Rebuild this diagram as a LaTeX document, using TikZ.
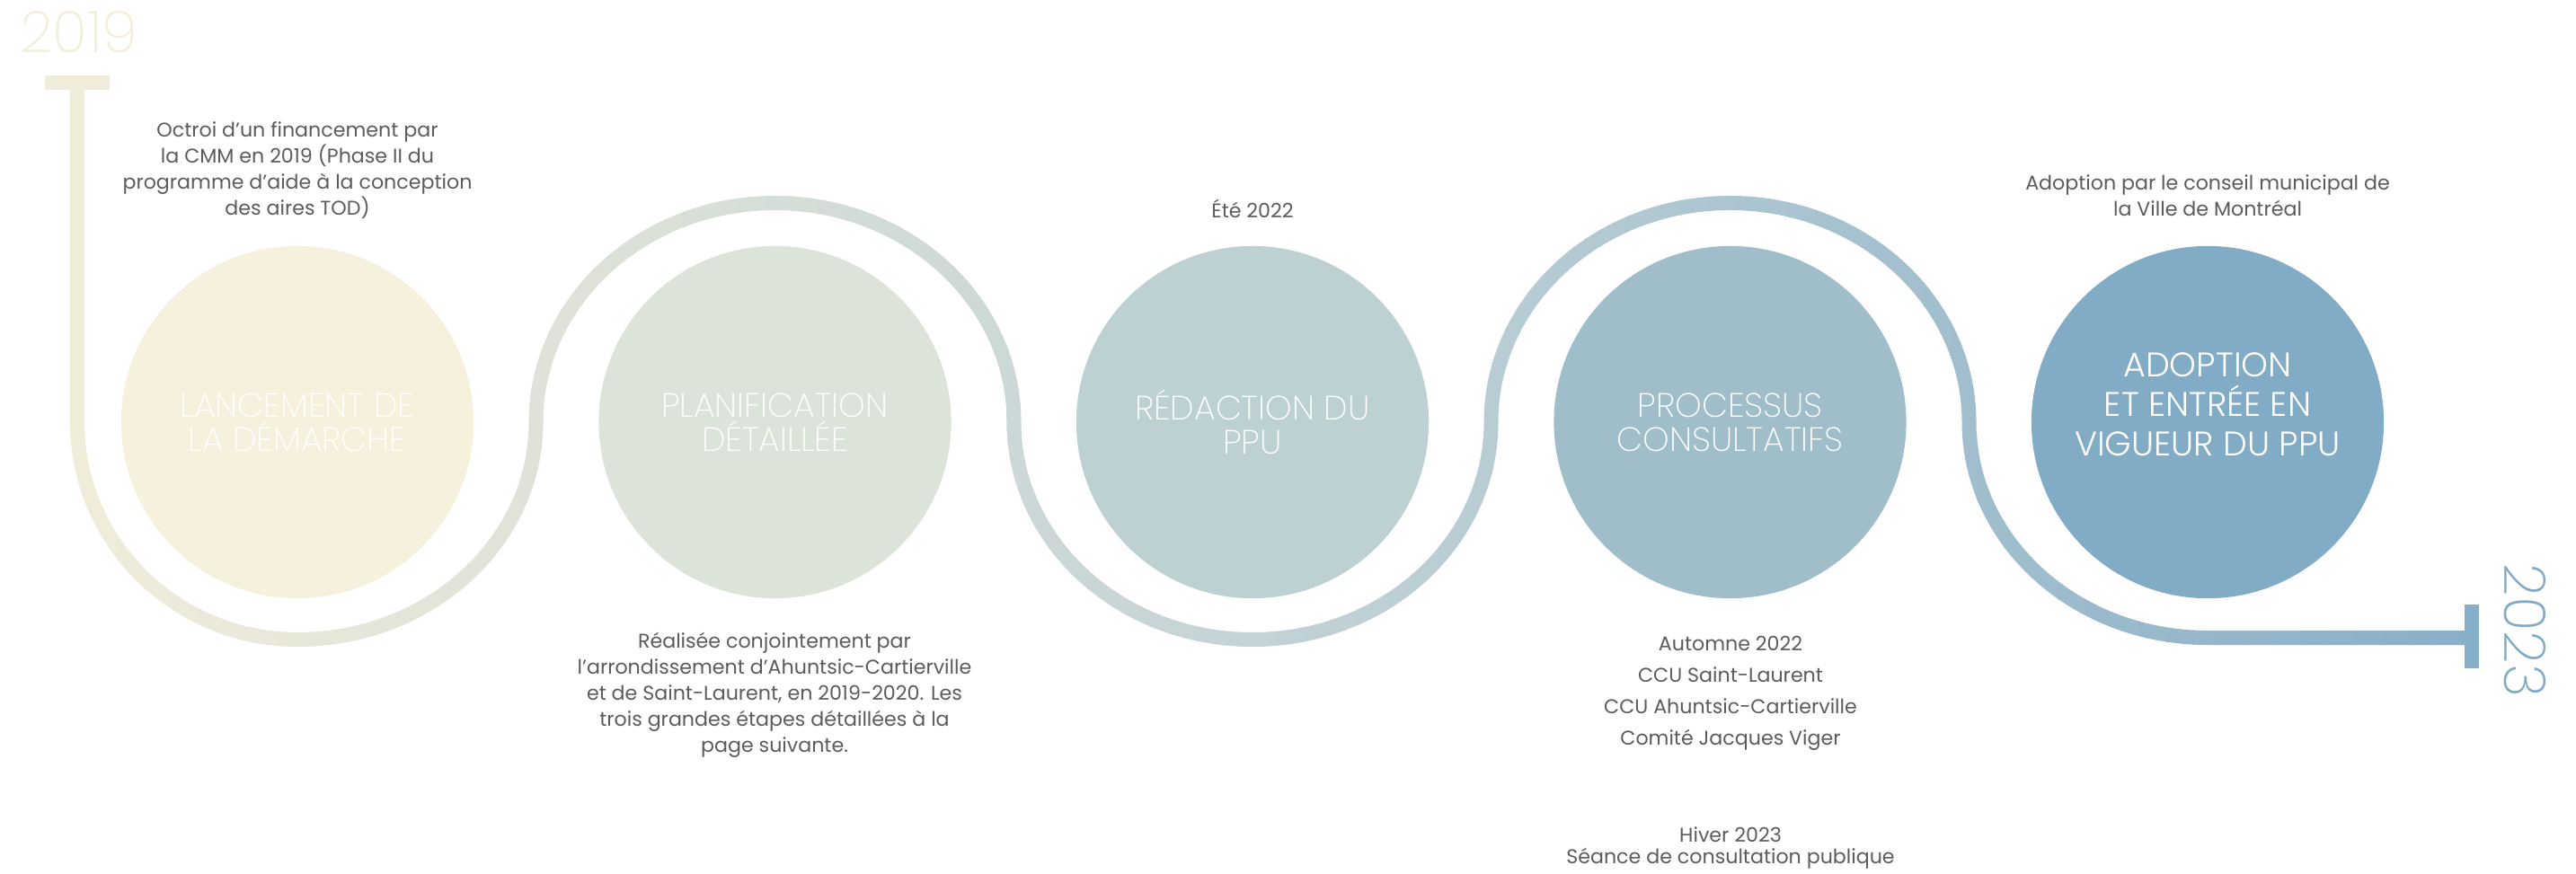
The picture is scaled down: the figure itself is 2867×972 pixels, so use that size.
\documentclass[tikz,border=0pt]{standalone}
\usepackage{fontspec}
\usepackage{tikz}
\usepackage{xcolor}
\setmainfont{Poppins}
\newfontfamily\titlefont{Poppins ExtraLight}
\newfontfamily\adoptfont{Poppins Light}

\definecolor{creme}{HTML}{F6F1DC}
\definecolor{sauge}{HTML}{DCE3D8}
\definecolor{brume}{HTML}{BDD1D3}
\definecolor{ciel}{HTML}{A0BDCA}
\definecolor{acier}{HTML}{82ACC6}
\definecolor{texte}{HTML}{5C5C5C}
\definecolor{traitA}{HTML}{F0ECDA}
\definecolor{traitB}{HTML}{C3D3D6}
\definecolor{traitC}{HTML}{88AFC8}
\definecolor{anneeA}{HTML}{F3EFDA}
\definecolor{anneeB}{HTML}{7FABC5}

% le serpentin, de 2019 a 2023
\newcommand{\serpentin}{(86,880) -- (86,502)
  arc[start angle=180, end angle=270, x radius=245, y radius=242]
  arc[start angle=270, end angle=360, x radius=265.5, y radius=242]
  arc[start angle=180, end angle=0, x radius=266, y radius=244]
  arc[start angle=180, end angle=360, x radius=265.5, y radius=242]
  arc[start angle=180, end angle=0, x radius=266, y radius=244]
  arc[start angle=180, end angle=270, x radius=265.5, y radius=240]
  -- (2751,262)}

\begin{document}
\begin{tikzpicture}[x=0.01cm, y=0.01cm,
  etape/.style={circle, minimum size=3.92cm, inner sep=0pt},
  titre/.style={text=white, align=center, font=\titlefont\fontsize{10.7}{10.7}\selectfont},
  note/.style={text=texte, align=center, font=\fontsize{6.3}{8.25}\selectfont},
  annee/.style={font=\titlefont\fontsize{18.2}{18.2}\selectfont}]
	% fond
	\fill[white] (0,0) rectangle (2867,972);
	\useasboundingbox (0,0) rectangle (2867,972);
	% serpentin en degrade, bande par bande
	\foreach \k in {0,...,91} {
		\pgfmathsetmacro{\xa}{40+30*\k}
		\pgfmathtruncatemacro{\pa}{max(0,min(100,(\xa+15-86)/13.08))}
		\pgfmathtruncatemacro{\pb}{max(0,min(100,(\xa+15-1394)/13.57))}
		\colorlet{melange}{traitB!\pa!traitA}
		\colorlet{trait}{traitC!\pb!melange}
		\begin{scope}
			\clip (\xa,0) rectangle ++(32,972);
			\draw[trait, line width=1.6mm] \serpentin;
		\end{scope}
	}
	% barres de debut et de fin
	\draw[traitA, line width=1.6mm] (50,880) -- (122,880);
	\draw[traitC, line width=1.6mm] (2751,299) -- (2751,228);
	% annees
	\node[annee, text=anneeA] (debut) at (88,936) {2019};
	\node[annee, text=anneeB, rotate=-90] (fin) at (2810,270) {2023};
	% les cinq etapes
	\node[etape, fill=creme] (lancement) at (331,502) {};
	\node[etape, fill=sauge] (planif) at (862.5,502) {};
	\node[etape, fill=brume] (redaction) at (1394,502) {};
	\node[etape, fill=ciel] (processus) at (1925.5,502) {};
	\node[etape, fill=acier] (adoption) at (2457,502) {};
	\node[titre] (t-lancement) at (lancement) {LANCEMENT DE\\LA DÉMARCHE};
	\node[titre] (t-planif) at (planif) {PLANIFICATION\\DÉTAILLÉE};
	\node[titre] (t-redaction) at (redaction) {RÉDACTION DU\\PPU};
	\node[titre] (t-processus) at (processus) {PROCESSUS\\CONSULTATIFS};
	\node[titre, font=\adoptfont\fontsize{10.8}{12.5}\selectfont] (t-adoption) at ([yshift=0.2cm]adoption.center) {ADOPTION\\ET ENTRÉE EN\\VIGUEUR DU PPU};
	% notes au-dessus
	\node[note] (n-lancement) at (331,782) {Octroi d’un financement par\\la CMM en 2019 (Phase II du\\programme d’aide à la conception\\des aires TOD)};
	\node[note] (n-redaction) at (1394,740) {Été 2022};
	\node[note] (n-adoption) at (2457,754) {Adoption par le conseil municipal de\\la Ville de Montréal};
	% notes au-dessous
	\node[note] (n-planif) at (862,198) {Réalisée conjointement par\\l’arrondissement d’Ahuntsic-Cartierville\\et de Saint-Laurent, en 2019-2020. Les\\trois grandes étapes détaillées à la\\page suivante.};
	\node[note, font=\fontsize{6.3}{10}\selectfont] (n-processus) at (1926,200) {Automne 2022\\CCU Saint-Laurent\\CCU Ahuntsic-Cartierville\\Comité Jacques Viger};
	\node[note, font=\fontsize{6.3}{6.8}\selectfont] (n-hiver) at (1926,28) {Hiver 2023\\Séance de consultation publique};
\end{tikzpicture}
\end{document}
